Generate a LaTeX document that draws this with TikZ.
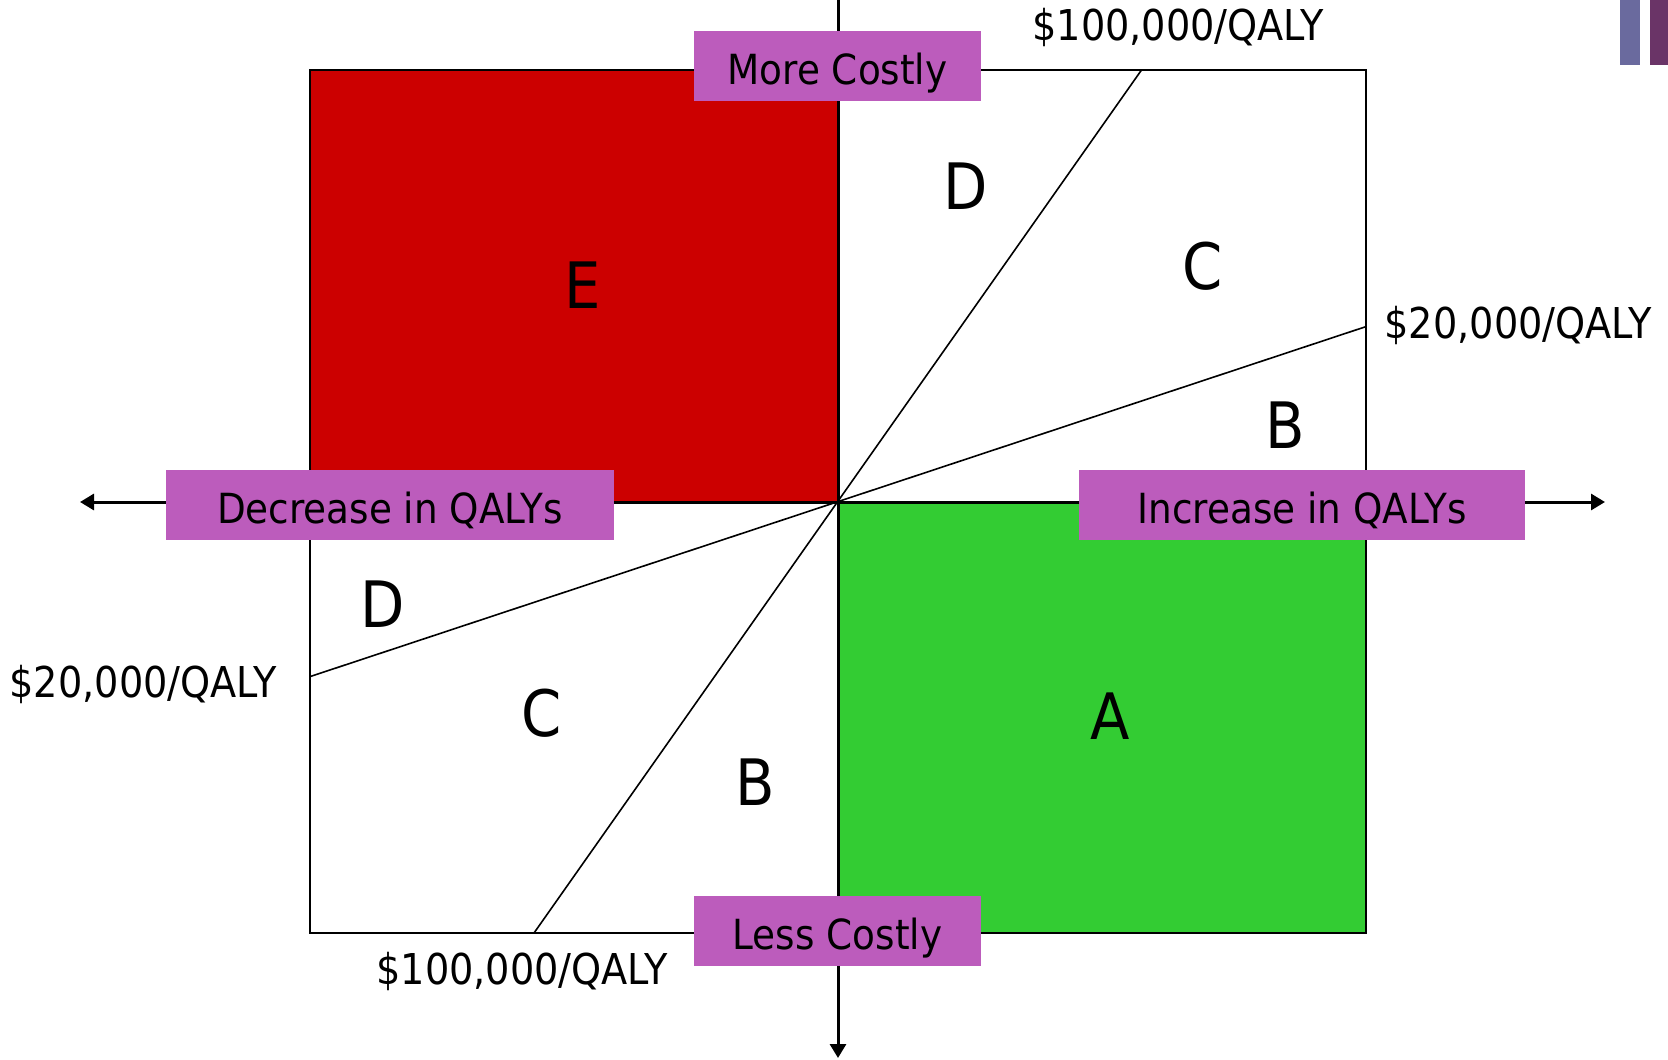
\documentclass[tikz,border=0pt]{standalone}
\usepackage{fontspec}
\setmainfont{DejaVu Sans}
\newfontfamily\labfont[FakeStretch=0.9]{DejaVu Sans}
\usetikzlibrary{arrows.meta}
\definecolor{boxpurple}{RGB}{188,92,188}
\definecolor{qred}{RGB}{204,0,0}
\definecolor{qgreen}{RGB}{51,204,51}
\definecolor{barblue}{RGB}{106,106,158}
\definecolor{barplum}{RGB}{106,52,103}
\begin{document}
\begin{tikzpicture}[x=1pt,y=-1pt,
  frame/.style={draw=black,line width=2pt},
  ratio/.style={draw=black,line width=1.6pt},
  axis/.style={line width=3pt,{Triangle[length=14pt,width=16pt]}-{Triangle[length=14pt,width=16pt]}},
  axisdown/.style={line width=3pt,-{Triangle[length=14pt,width=16pt]}},
  tag/.style={fill=boxpurple,inner sep=0pt,minimum height=70pt,
    font=\labfont\fontsize{41.5}{49}\selectfont,text height=37pt,text depth=0pt},
  val/.style={inner sep=0pt,anchor=base,font=\labfont\fontsize{42.5}{50}\selectfont},
  letter/.style={inner sep=0pt,font=\labfont\fontsize{64}{70}\selectfont,text height=46.5pt,text depth=0pt}
]
\useasboundingbox (0,0) rectangle (1668,1060);
% decorative bars
\fill[barblue] (1620,0) rectangle (1640,65);
\fill[barplum] (1650,0) rectangle (1668,65);
% quadrant fills
\fill[qred] (310,70) rectangle (838,502);
\fill[qgreen] (838,502) rectangle (1366,933);
\draw[frame] (310,70) rectangle (1366,933);
% coordinates
\coordinate (O) at (838,502);
\coordinate (k100t) at (1141.5,70);
\coordinate (k100b) at (534,933);
\coordinate (k20r) at (1366,326.6);
\coordinate (k20l) at (310,676.6);
\coordinate (axL) at (80,502);
\coordinate (axR) at (1605,502);
\coordinate (axT) at (838,-2);
\coordinate (axB) at (838,1058);
% threshold lines
\draw[ratio] (k100b) -- (k100t);
\draw[ratio] (k20l) -- (k20r);
% axes
\draw[axis] (axL) -- (axR);
\draw[axisdown] (axT) -- (axB);
% axis tags
\node[tag,minimum width=287pt] (more) at (837.5,66) {More Costly};
\node[tag,minimum width=287pt] (less) at (837.5,930.5) {Less Costly};
\node[tag,minimum width=448pt] (dec) at (390,505) {Decrease in QALYs};
\node[tag,minimum width=446pt] (inc) at (1302,505) {Increase in QALYs};
% threshold labels
\node[val] (t100top) at (1178,40) {\$100,000/QALY};
\node[val] (t20right) at (1518,338) {\$20,000/QALY};
\node[val] (t20left) at (143,697) {\$20,000/QALY};
\node[val] (t100bot) at (522,984) {\$100,000/QALY};
% region letters
\node[letter] (lE) at (583,285) {E};
\node[letter] (lD1) at (966,186) {D};
\node[letter] (lC1) at (1203,266) {C};
\node[letter] (lB1) at (1285,425) {B};
\node[letter] (lD2) at (383,604) {D};
\node[letter] (lC2) at (541.5,713) {C};
\node[letter] (lB2) at (755,782) {B};
\node[letter] (lA) at (1110.6,716) {A};
\end{tikzpicture}
\end{document}
